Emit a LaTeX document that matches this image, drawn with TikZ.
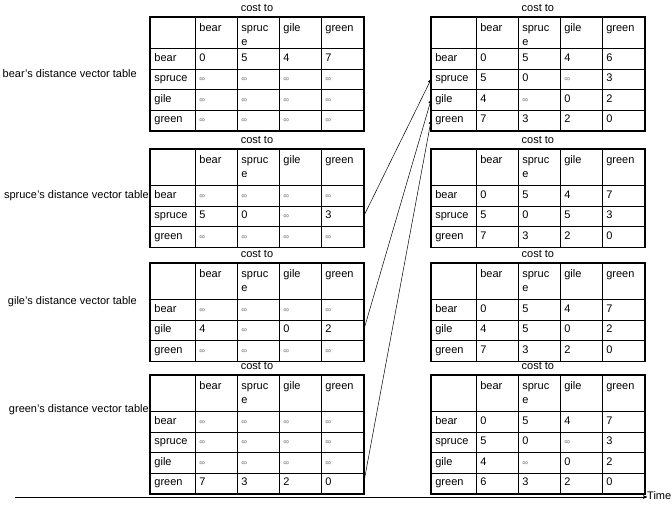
\documentclass[tikz,border=0pt]{standalone}
\usepackage{fontspec}
\setmainfont{Liberation Sans}
\usetikzlibrary{matrix, positioning, arrows}
\newcommand{\dvinf}{\textcolor{black!55}{\fontsize{8}{8}\selectfont ∞}}
\tikzset{
>=stealth', % small filled arrow heads
dvtable/.style={
  matrix of nodes, nodes in empty cells, % one node per cell
  inner sep=0pt,
  row sep=-0.5pt, column sep=-0.5pt, % cell borders overlap
  nodes={draw, line width=0.5pt, text width=34pt, inner xsep=4pt, inner ysep=0pt,
    text height=7.5pt, text depth=2.5pt, minimum height=20.5pt, align=left, anchor=center},
  column 1/.style={nodes={text width=37pt}}, % row names
  row 1/.style={nodes={text height=14pt, text depth=#1}}, % header, text on top
},
dvtable/.default=22pt,
frame/.style={line width=1.6pt}, % thick outer border
costto/.style={inner sep=0pt}, % label over each table
dvlabel/.style={inner sep=0pt}, % name of a table
link/.style={->, line width=0.5pt}, % update sent to bear
}
\begin{document}
\begin{tikzpicture}[x=1pt, y=1pt, font=\fontsize{11}{14}\selectfont]
\useasboundingbox (0,0) rectangle (672,-504);

% tables at the start
\matrix[dvtable=17pt, anchor=north west] (L1) at (150,-17) {
         & bear   & {spruc\\e} & gile   & green  \\
  bear   & 0      & 5          & 4      & 7      \\
  spruce & \dvinf & \dvinf     & \dvinf & \dvinf \\
  gile   & \dvinf & \dvinf     & \dvinf & \dvinf \\
  green  & \dvinf & \dvinf     & \dvinf & \dvinf \\
};
\matrix[dvtable, anchor=north west] (L2) at (150,-149) {
         & bear   & {spruc\\e} & gile   & green  \\
  bear   & \dvinf & \dvinf     & \dvinf & \dvinf \\
  spruce & 5      & 0          & \dvinf & 3      \\
  green  & \dvinf & \dvinf     & \dvinf & \dvinf \\
};
\matrix[dvtable, anchor=north west] (L3) at (150,-263) {
         & bear   & {spruc\\e} & gile   & green  \\
  bear   & \dvinf & \dvinf     & \dvinf & \dvinf \\
  gile   & 4      & \dvinf     & 0      & 2      \\
  green  & \dvinf & \dvinf     & \dvinf & \dvinf \\
};
\matrix[dvtable, anchor=north west] (L4) at (150,-375) {
         & bear   & {spruc\\e} & gile   & green  \\
  bear   & \dvinf & \dvinf     & \dvinf & \dvinf \\
  spruce & \dvinf & \dvinf     & \dvinf & \dvinf \\
  gile   & \dvinf & \dvinf     & \dvinf & \dvinf \\
  green  & 7      & 3          & 2      & 0      \\
};

% tables after the exchange
\matrix[dvtable=17pt, right=67pt of L1] (R1) {
         & bear & {spruc\\e} & gile   & green \\
  bear   & 0    & 5          & 4      & 6     \\
  spruce & 5    & 0          & \dvinf & 3     \\
  gile   & 4    & \dvinf     & 0      & 2     \\
  green  & 7    & 3          & 2      & 0     \\
};
\matrix[dvtable, right=67pt of L2] (R2) {
         & bear & {spruc\\e} & gile & green \\
  bear   & 0    & 5          & 4    & 7     \\
  spruce & 5    & 0          & 5    & 3     \\
  green  & 7    & 3          & 2    & 0     \\
};
\matrix[dvtable, right=67pt of L3] (R3) {
         & bear & {spruc\\e} & gile & green \\
  bear   & 0    & 5          & 4    & 7     \\
  gile   & 4    & 5          & 0    & 2     \\
  green  & 7    & 3          & 2    & 0     \\
};
\matrix[dvtable, right=67pt of L4] (R4) {
         & bear & {spruc\\e} & gile   & green \\
  bear   & 0    & 5          & 4      & 7     \\
  spruce & 5    & 0          & \dvinf & 3     \\
  gile   & 4    & \dvinf     & 0      & 2     \\
  green  & 6    & 3          & 2      & 0     \\
};

\foreach \t in {L1, L2, L3, L4, R1, R2, R3, R4} {
  \draw[frame] (\t.north west) rectangle (\t.south east);
  \node[costto, above=5pt of \t] (cost\t) {cost to};
}

\node[dvlabel, left=13pt of L1] (bearname) {bear's distance vector table};
\node[dvlabel, left=1pt of L2, yshift=3pt] (sprucename) {spruce's distance vector table};
\node[dvlabel, left=13pt of L3, yshift=11pt] (gilename) {gile's distance vector table};
\node[dvlabel, left=1pt of L4, yshift=25pt] (greenname) {green's distance vector table};

% updates sent to bear
\draw[link] (L2-3-5.east) -- (R1-3-1.west);
\draw[link] (L3-3-5.east) -- (R1-4-1.west);
\draw[link] (L4-5-5.east) -- (R1-5-1.west);

% time axis
\coordinate (t0) at (15,-497);
\node[inner sep=0pt, anchor=base west] (time) at (647,-499) {Time};
\draw[link] (t0) -- (t0 -| time.west);
\end{tikzpicture}
\end{document}
